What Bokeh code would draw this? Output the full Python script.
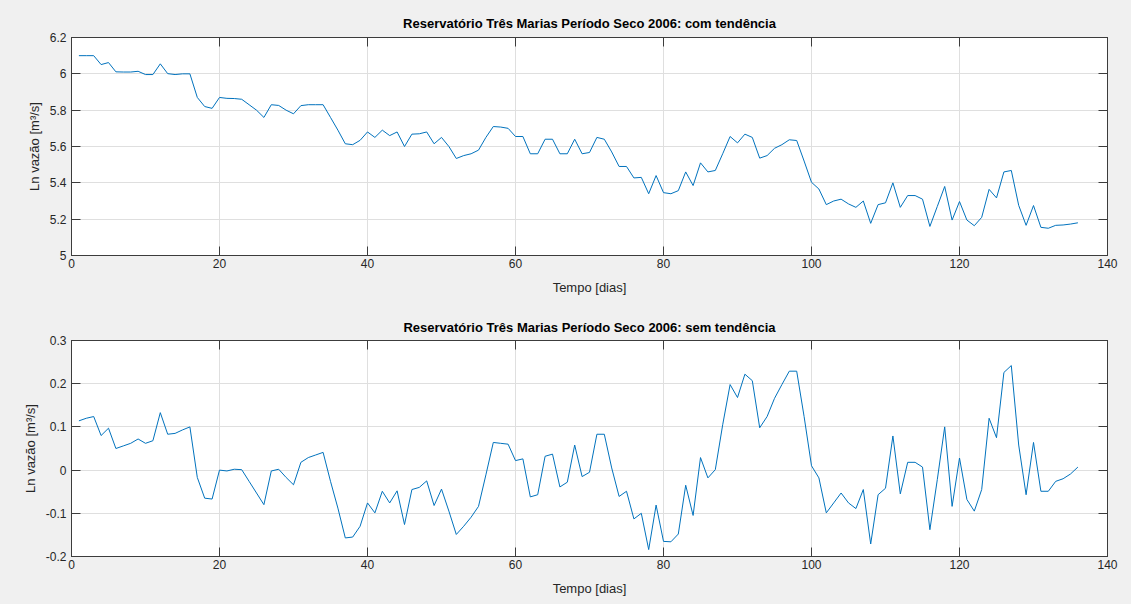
from bokeh.plotting import figure
from bokeh.layouts import column
from bokeh.models import LinearAxis, FixedTicker, Range1d
from bokeh.embed import file_html
from bokeh.resources import INLINE

days = list(range(1, 137))

ln_flow_trend = [
    6.10, 6.10, 6.10, 6.051, 6.062, 6.011, 6.01, 6.01, 6.014, 5.996,
    5.996, 6.055, 6.001, 5.996, 6.0, 6.0, 5.87, 5.82, 5.81, 5.87,
    5.865, 5.864, 5.86, 5.83, 5.80, 5.76, 5.83, 5.826, 5.80, 5.78,
    5.825, 5.83, 5.83, 5.83, 5.76, 5.69, 5.615, 5.61, 5.634, 5.68,
    5.65, 5.69, 5.66, 5.68, 5.60, 5.668, 5.67, 5.68, 5.615, 5.65,
    5.60, 5.534, 5.55, 5.56, 5.58, 5.65, 5.71, 5.707, 5.70, 5.655,
    5.655, 5.56, 5.56, 5.64, 5.64, 5.56, 5.56, 5.64, 5.56, 5.567,
    5.65, 5.64, 5.57, 5.49, 5.49, 5.427, 5.43, 5.34, 5.44, 5.346,
    5.34, 5.357, 5.46, 5.385, 5.51, 5.46, 5.468, 5.56, 5.655, 5.62,
    5.668, 5.65, 5.536, 5.55, 5.59, 5.61, 5.637, 5.633, 5.52, 5.403,
    5.366, 5.28, 5.30, 5.31, 5.284, 5.265, 5.30, 5.177, 5.28, 5.29,
    5.40, 5.265, 5.33, 5.33, 5.31, 5.16, 5.27, 5.38, 5.195, 5.297,
    5.195, 5.164, 5.21, 5.364, 5.317, 5.46, 5.468, 5.276, 5.166, 5.275,
    5.155, 5.15, 5.166, 5.168, 5.173, 5.18,
]

ln_flow_detrended = [
    0.114, 0.12, 0.124, 0.08, 0.097, 0.05, 0.056, 0.062, 0.072, 0.062,
    0.068, 0.133, 0.083, 0.085, 0.093, 0.10, -0.017, -0.065, -0.067, 0.0,
    -0.002, 0.002, 0.001, -0.026, -0.053, -0.08, -0.002, 0.002, -0.017, -0.034,
    0.018, 0.029, 0.035, 0.041, -0.026, -0.088, -0.157, -0.155, -0.13, -0.076,
    -0.099, -0.049, -0.076, -0.048, -0.126, -0.045, -0.04, -0.025, -0.082, -0.044,
    -0.095, -0.149, -0.13, -0.109, -0.084, -0.011, 0.064, 0.062, 0.06, 0.022,
    0.026, -0.062, -0.057, 0.032, 0.037, -0.039, -0.028, 0.058, -0.015, -0.005,
    0.083, 0.083, 0.005, -0.061, -0.049, -0.113, -0.10, -0.184, -0.081, -0.165,
    -0.166, -0.148, -0.035, -0.105, 0.029, -0.018, 0.001, 0.105, 0.198, 0.168,
    0.222, 0.207, 0.098, 0.124, 0.166, 0.198, 0.229, 0.229, 0.124, 0.01,
    -0.018, -0.099, -0.076, -0.053, -0.076, -0.089, -0.045, -0.171, -0.057, -0.042,
    0.079, -0.055, 0.018, 0.018, 0.007, -0.138, -0.022, 0.10, -0.084, 0.028,
    -0.068, -0.095, -0.045, 0.12, 0.075, 0.226, 0.242, 0.058, -0.057, 0.064,
    -0.049, -0.049, -0.026, -0.02, -0.009, 0.007,
]

x_ticks = [0, 20, 40, 60, 80, 100, 120, 140]
x_tick_labels = ["0", "20", "40", "60", "80", "100", "120", "140"]

y_ticks_top = [5.0, 5.2, 5.4, 5.6, 5.8, 6.0, 6.2]
y_tick_labels_top = ["5", "5.2", "5.4", "5.6", "5.8", "6", "6.2"]

y_ticks_bottom = [-0.2, -0.1, 0.0, 0.1, 0.2, 0.3]
y_tick_labels_bottom = ["-0.2", "-0.1", "0", "0.1", "0.2", "0.3"]

title_top = "Reservatório Três Marias Período Seco 2006: com tendência"
title_bottom = "Reservatório Três Marias Período Seco 2006: sem tendência"
x_label = "Tempo [dias]"
y_label = "Ln vazão [m³/s]"

FONT = "Liberation Sans"
BG = "#f0f0f0"
AX = "#3c3c3c"
TXT = "#262626"
GRID = "#dfdfdf"
LINE = "#0072bd"


def style_axis(ax, ticks, labels, show_labels=True):
    ax.ticker = FixedTicker(ticks=ticks)
    ax.major_label_overrides = {t: s for t, s in zip(ticks, labels)}
    ax.major_tick_in = 9
    ax.major_tick_out = 0
    ax.minor_tick_line_color = None
    ax.axis_line_color = AX
    ax.major_tick_line_color = AX
    ax.major_label_text_font = FONT
    ax.major_label_text_font_size = "12px"
    ax.major_label_text_color = TXT if show_labels else None
    ax.axis_label_text_font = FONT
    ax.axis_label_text_font_size = "13px"
    ax.axis_label_text_font_style = "normal"
    ax.axis_label_text_color = TXT


def make_fig(title, y, yr, yticks, ylabels, height, top, bottom, title_standoff):
    p = figure(
        width=1131, height=height,
        x_range=Range1d(0, 140), y_range=Range1d(*yr),
        output_backend="svg", toolbar_location=None,
        title=title,
        min_border_left=71, min_border_right=24,
        min_border_top=top, min_border_bottom=bottom,
    )
    p.border_fill_color = BG
    p.background_fill_color = "white"
    p.outline_line_color = AX
    p.title.align = "center"
    p.title.text_font = FONT
    p.title.text_font_size = "13px"
    p.title.text_font_style = "bold"
    p.title.text_color = "#000000"
    p.title.standoff = title_standoff

    style_axis(p.xaxis[0], x_ticks, x_tick_labels)
    style_axis(p.yaxis[0], yticks, ylabels)
    p.xaxis[0].axis_label = x_label
    p.yaxis[0].axis_label = y_label
    p.xaxis[0].major_label_standoff = 3
    p.yaxis[0].major_label_standoff = 5
    p.xaxis[0].axis_label_standoff = 9

    ra = LinearAxis()
    style_axis(ra, yticks, ylabels, show_labels=False)
    p.add_layout(ra, "right")
    ta = LinearAxis()
    style_axis(ta, x_ticks, x_tick_labels, show_labels=False)
    p.add_layout(ta, "above")

    p.xgrid.ticker = FixedTicker(ticks=x_ticks)
    p.ygrid.ticker = FixedTicker(ticks=yticks)
    p.xgrid.grid_line_color = GRID
    p.ygrid.grid_line_color = GRID

    p.line(days, y, line_color=LINE, line_width=1)
    return p


p1 = make_fig(title_top, ln_flow_trend, (5.0, 6.2), y_ticks_top, y_tick_labels_top, 308, 37, 53, 13)
p2 = make_fig(title_bottom, ln_flow_detrended, (-0.2, 0.3), y_ticks_bottom, y_tick_labels_bottom, 296, 32, 48, 11)

layout = column(p1, p2, spacing=0, styles={"background-color": BG})

open("out.html", "w").write(file_html(layout, INLINE))
